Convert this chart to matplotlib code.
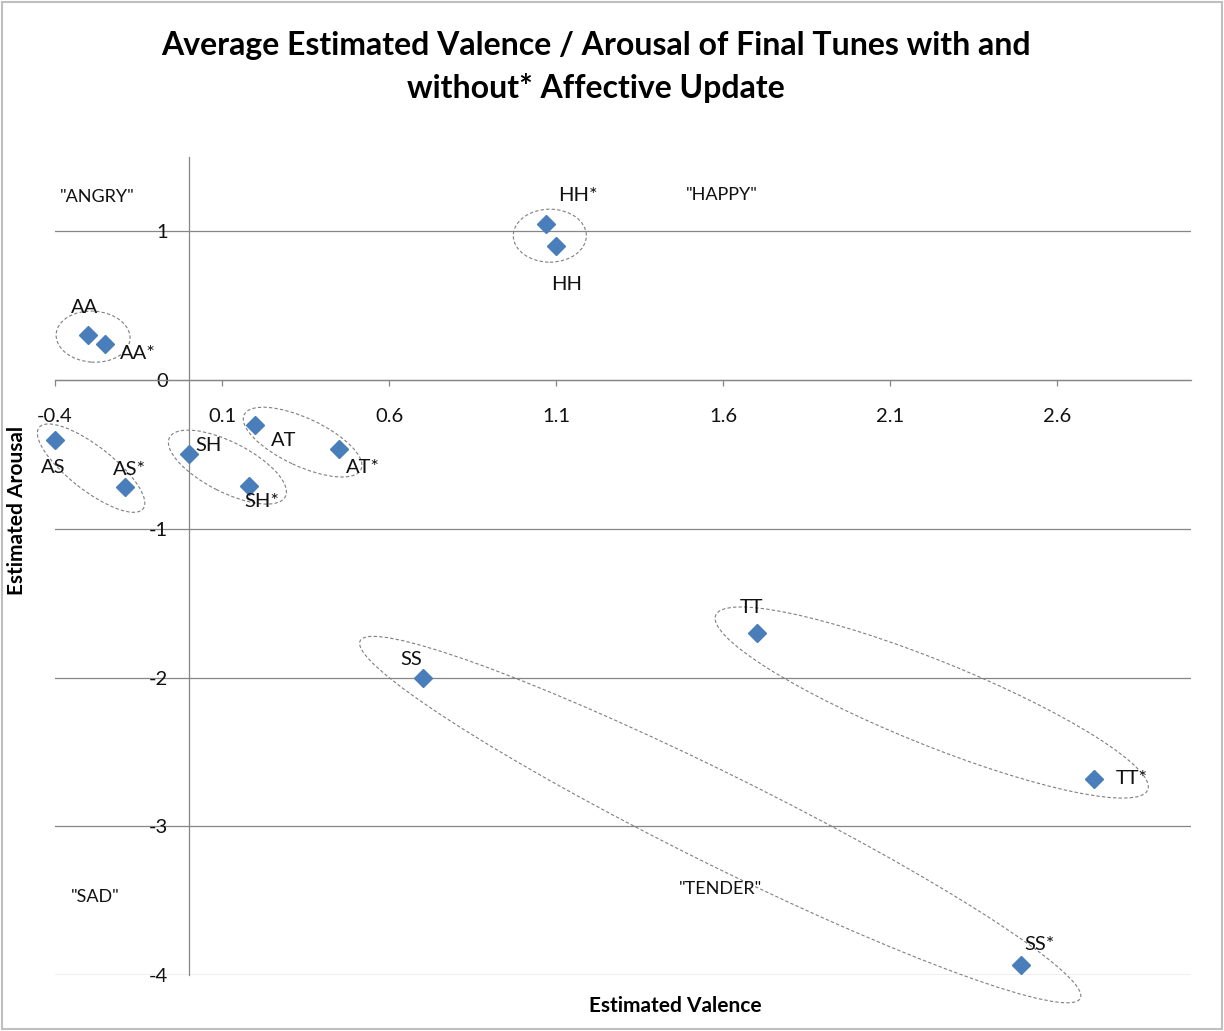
import matplotlib
matplotlib.use('Agg')
import matplotlib.pyplot as plt
from matplotlib.patches import Ellipse, Rectangle
from matplotlib.transforms import ScaledTranslation

plt.rcParams['font.family'] = ['Lato', 'DejaVu Sans']
plt.rcParams['axes.unicode_minus'] = False

# average estimated valence / arousal per final tune (* = without affective update)
tunes = ['HH*', 'HH', 'AA', 'AA*', 'AS', 'AS*', 'SH', 'SH*', 'AT', 'AT*', 'SS', 'SS*', 'TT', 'TT*']
valence = [1.07, 1.10, -0.30, -0.25, -0.40, -0.19, 0.00, 0.18, 0.20, 0.45, 0.70, 2.49, 1.70, 2.71]
arousal = [1.05, 0.90, 0.30, 0.24, -0.40, -0.72, -0.50, -0.71, -0.30, -0.46, -2.00, -3.93, -1.70, -2.68]

x_ticks = [-0.4, 0.1, 0.6, 1.1, 1.6, 2.1, 2.6]
y_ticks = [-4, -3, -2, -1, 0, 1]
quadrants = ['"ANGRY"', '"HAPPY"', '"SAD"', '"TENDER"']

# layout (pixels / data positions for annotations)
label_off = {'HH*': (32, 28), 'HH': (10, -38), 'AA': (-4, 28), 'AA*': (33, -9),
             'AS': (-2, -28), 'AS*': (4, 18), 'SH': (20, 9), 'SH*': (13, -16),
             'AT': (28, -16), 'AT*': (24, -19), 'SS': (-11, 18), 'SS*': (19, 20),
             'TT': (-5, 25), 'TT*': (38, 0)}
quad_pos = [(-0.274, 1.23), (1.597, 1.244), (-0.28, -3.476), (1.591, -3.422)]
# ellipses: centre (data), width/height (px), angle (deg, clockwise on screen)
rings = [((1.081, 0.971), 73, 53, 0),
         ((-0.286, 0.292), 74, 51, 4),
         ((-0.292, -0.592), 132, 44, 38),
         ((0.116, -0.585), 130, 50, 27),
         ((0.341, -0.417), 129, 48, 25),
         ((1.591, -2.955), 804, 90, 26.4),
         ((2.224, -2.168), 466, 84, 22)]

grey = '#868686'
blue = '#4a7ebb'
ink = '#111111'

fig = plt.figure(figsize=(12.24, 10.31), dpi=100)
ax = fig.add_axes([55 / 1224, 56 / 1031, 1136 / 1224, 818 / 1031])
ax.set_xlim(-0.4, 3.0)
ax.set_ylim(-4, 1.5)

for s in ['top', 'right']:
    ax.spines[s].set_visible(False)
ax.spines['left'].set_position(('data', 0))
ax.spines['bottom'].set_position(('data', 0))
for s in ['left', 'bottom']:
    ax.spines[s].set_color(grey)
    ax.spines[s].set_linewidth(0.9)

ax.set_xticks(x_ticks)
ax.set_xticklabels(['%.1f' % v for v in x_ticks])
ax.set_yticks(y_ticks)
ax.set_yticklabels([str(v) for v in y_ticks])
ax.tick_params(axis='x', direction='out', length=4.3, width=0.9, color=grey,
               pad=16, labelsize=14.5, labelcolor=ink)
ax.tick_params(axis='y', length=0, pad=15, labelsize=14.5, labelcolor=ink)
ax.yaxis.grid(True, color=grey, linewidth=0.9)
ax.set_axisbelow(True)

ax.plot(valence, arousal, 'D', color=blue, markersize=9.5, zorder=3, clip_on=False)

for name, x, y in zip(tunes, valence, arousal):
    ax.annotate(name, (x, y), xytext=label_off[name], textcoords='offset pixels',
                ha='center', va='center', fontsize=14.5, color=ink)

for txt, (qx, qy) in zip(quadrants, quad_pos):
    ax.text(qx, qy, txt, ha='center', va='center', fontsize=13, color=ink)

for (cx, cy), w, h, ang in rings:
    tr = fig.dpi_scale_trans + ScaledTranslation(cx, cy, ax.transData)
    ax.add_patch(Ellipse((0, 0), w / 100, h / 100, angle=-ang, transform=tr,
                         fill=False, edgecolor='#7f7f7f', linewidth=0.8,
                         linestyle=(0, (3, 2)), clip_on=False))

fig.text(0.487, 1 - 67 / 1031,
         'Average Estimated Valence / Arousal of Final Tunes with and\nwithout* Affective Update',
         ha='center', va='center', fontsize=23, fontweight='bold', linespacing=1.5)
fig.text(675 / 1224, 1 - 1006 / 1031, 'Estimated Valence', ha='center', va='center',
         fontsize=15, fontweight='bold')
fig.text(17 / 1224, 1 - 510 / 1031, 'Estimated Arousal', ha='center', va='center',
         rotation=90, fontsize=15, fontweight='bold')

fig.patches.append(Rectangle((0.002, 0.002), 0.996, 0.996, transform=fig.transFigure,
                             fill=False, edgecolor='#bfbfbf', linewidth=1.5))

fig.savefig('out.png', dpi=100)
